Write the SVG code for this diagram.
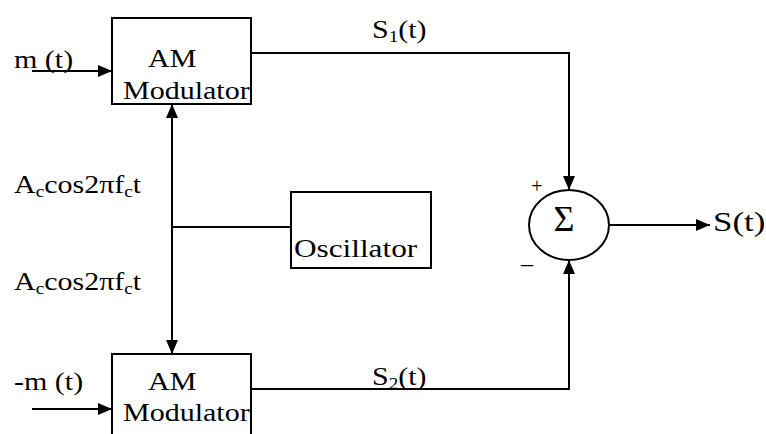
<svg xmlns="http://www.w3.org/2000/svg" width="766" height="434" viewBox="0 0 766 434">
<defs>
<marker id="ah" markerUnits="userSpaceOnUse" markerWidth="15" markerHeight="12" refX="14" refY="6" orient="auto-start-reverse">
<path d="M0,0 L14,6 L0,12 Z" fill="#000"/>
</marker>
<style>
.box{fill:#fff;stroke:#000;stroke-width:2}
.ln{fill:none;stroke:#000;stroke-width:2}
.t{font-family:"Liberation Serif","Times New Roman",serif;font-size:25px;fill:#000}
.sub{font-size:16px}
</style>
</defs>
<rect width="766" height="434" fill="#fff"/>
<g id="connectors">
<line class="ln" x1="32" y1="71" x2="112" y2="71" marker-end="url(#ah)"/>
<line class="ln" x1="32" y1="409" x2="112" y2="409" marker-end="url(#ah)"/>
<line class="ln" x1="172" y1="104" x2="172" y2="354" marker-start="url(#ah)" marker-end="url(#ah)"/>
<line class="ln" x1="172" y1="227" x2="291" y2="227"/>
<polyline class="ln" points="251,53 569,53 569,190" marker-end="url(#ah)"/>
<polyline class="ln" points="251,389 569,389 569,260" marker-end="url(#ah)"/>
<line class="ln" x1="609" y1="225" x2="710" y2="225" marker-end="url(#ah)"/>
</g>
<g id="am1">
<rect class="box" x="112" y="18" width="139" height="86"/>
<text class="t" transform="translate(148,67) scale(1.2,1)">AM</text>
<text class="t" transform="translate(123,99) scale(1.2,1)">Modulator</text>
</g>
<g id="am2">
<rect class="box" x="112" y="354" width="139" height="90"/>
<text class="t" transform="translate(148,390) scale(1.2,1)">AM</text>
<text class="t" transform="translate(123,421) scale(1.2,1)">Modulator</text>
</g>
<g id="osc">
<rect class="box" x="291" y="192" width="140" height="76"/>
<text class="t" transform="translate(294,257) scale(1.25,1)">Oscillator</text>
</g>
<g id="sum">
<ellipse class="ln" cx="569" cy="225" rx="40" ry="35"/>
<text class="t" style="font-size:36px" text-anchor="middle" transform="translate(564,231)">Σ</text>
<text class="t" style="font-size:20px" text-anchor="middle" transform="translate(537,193)">+</text>
<text class="t" style="font-size:24px" text-anchor="middle" transform="translate(527,271)">–</text>
</g>
<g id="labels">
<text class="t" transform="translate(14,68) scale(1.2,1)">m (t)</text>
<text class="t" transform="translate(14,390) scale(1.2,1)">-m (t)</text>
<text class="t" transform="translate(14,193) scale(1.2,1)">A<tspan class="sub" dy="4">c</tspan><tspan dy="-4">cos2πf</tspan><tspan class="sub" dy="4">c</tspan><tspan dy="-4">t</tspan></text>
<text class="t" transform="translate(14,290) scale(1.2,1)">A<tspan class="sub" dy="4">c</tspan><tspan dy="-4">cos2πf</tspan><tspan class="sub" dy="4">c</tspan><tspan dy="-4">t</tspan></text>
<text class="t" transform="translate(372,38) scale(1.2,1)">S<tspan class="sub" dy="4">1</tspan><tspan dy="-4">(t)</tspan></text>
<text class="t" transform="translate(372,385) scale(1.2,1)">S<tspan class="sub" dy="4">2</tspan><tspan dy="-4">(t)</tspan></text>
<text class="t" style="font-size:28px" transform="translate(713,231) scale(1.25,1)">S(t)</text>
</g>
</svg>
